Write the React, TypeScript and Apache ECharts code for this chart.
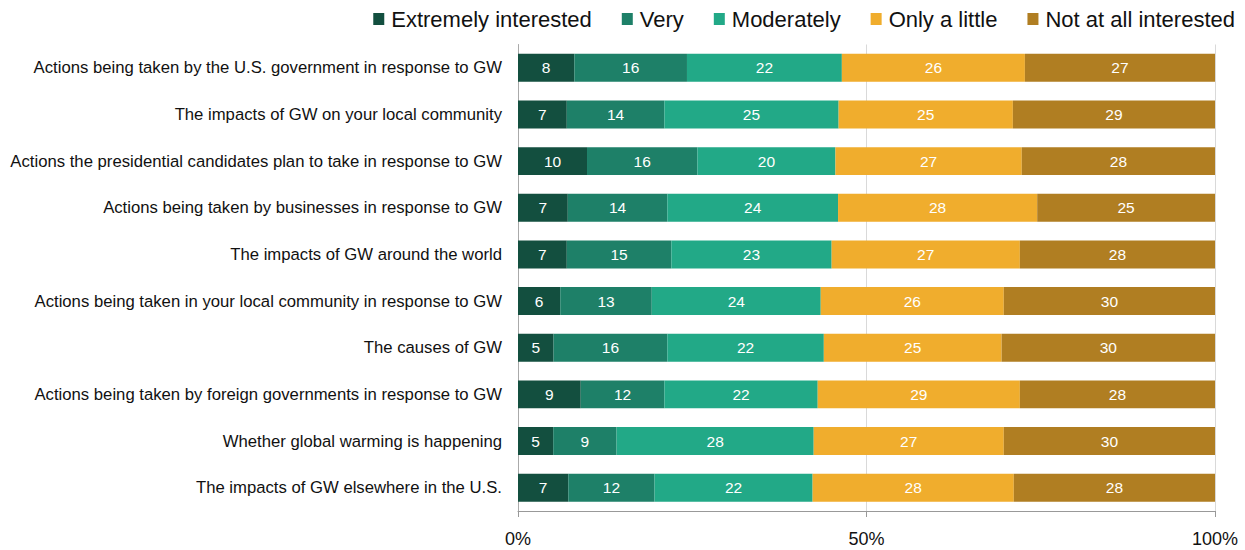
import React, { useEffect, useRef } from "react";
import * as echarts from "echarts";

const categories = [
  "Actions being taken by the U.S. government in response to GW",
  "The impacts of GW on your local community",
  "Actions the presidential candidates plan to take in response to GW",
  "Actions being taken by businesses in response to GW",
  "The impacts of GW around the world",
  "Actions being taken in your local community in response to GW",
  "The causes of GW",
  "Actions being taken by foreign governments in response to GW",
  "Whether global warming is happening",
  "The impacts of GW elsewhere in the U.S.",
];

const seriesNames = ["Extremely interested", "Very", "Moderately", "Only a little", "Not at all interested"];
const extremely = [8, 7, 10, 7, 7, 6, 5, 9, 5, 7];
const very = [16, 14, 16, 14, 15, 13, 16, 12, 9, 12];
const moderately = [22, 25, 20, 24, 23, 24, 22, 22, 28, 22];
const onlyALittle = [26, 25, 27, 28, 27, 26, 25, 29, 27, 28];
const notAtAll = [27, 29, 28, 25, 28, 30, 30, 28, 30, 28];
const colors = ["#134f3f", "#1e8068", "#22a987", "#f0ad2d", "#b07e22"];
const xTicks = [0, 50, 100];

const FONT = "Arial, 'Liberation Sans', Helvetica, sans-serif";

export default function App() {
  const ref = useRef<HTMLDivElement>(null);
  useEffect(() => {
    if (!ref.current) return;
    const chart = echarts.init(ref.current, undefined, { renderer: "svg" });
    const raw = [extremely, very, moderately, onlyALittle, notAtAll];
    const totals = categories.map((_, i) => raw.reduce((s, arr) => s + arr[i], 0));
    chart.setOption({
      animation: false,
      textStyle: { fontFamily: FONT },
      legend: {
        top: 8,
        right: 10,
        padding: 0,
        itemWidth: 11,
        itemHeight: 12,
        itemGap: 30,
        icon: "rect",
        textStyle: { fontSize: 22, color: "#111", fontFamily: FONT, padding: [0, 0, 0, 2] },
        data: seriesNames,
      },
      grid: { left: 518, right: 30, top: 44.5, bottom: 39, outerBoundsMode: "none", containLabel: false },
      xAxis: {
        type: "value",
        min: xTicks[0],
        max: xTicks[xTicks.length - 1],
        interval: 50,
        axisLabel: { formatter: "{value}%", fontSize: 18, color: "#111", margin: 19, fontFamily: FONT },
        axisLine: { show: true, lineStyle: { color: "#999" } },
        axisTick: { show: true, length: 6, lineStyle: { color: "#999" } },
        splitLine: { show: true, lineStyle: { color: "#d9d9d9" } },
      },
      yAxis: {
        type: "category",
        inverse: true,
        data: categories,
        axisLine: { show: true, lineStyle: { color: "#aaa" } },
        axisTick: { show: false },
        axisLabel: { fontSize: 16.7, color: "#111", margin: 16, fontFamily: FONT },
      },
      series: raw.map((arr, si) => ({
        name: seriesNames[si],
        type: "bar",
        stack: "total",
        barWidth: "60%",
        itemStyle: { color: colors[si] },
        label: {
          show: true,
          position: "inside",
          color: "#fff",
          fontSize: 15.5,
          fontFamily: FONT,
          formatter: (p: any) => String(arr[p.dataIndex]),
        },
        data: arr.map((v, i) => (v / totals[i]) * 100),
      })),
    });
    return () => chart.dispose();
  }, []);
  return (
    <div
      ref={ref}
      style={{ position: "fixed", left: 0, top: 0, width: 1245, height: 550, background: "#fff" }}
    />
  );
}
